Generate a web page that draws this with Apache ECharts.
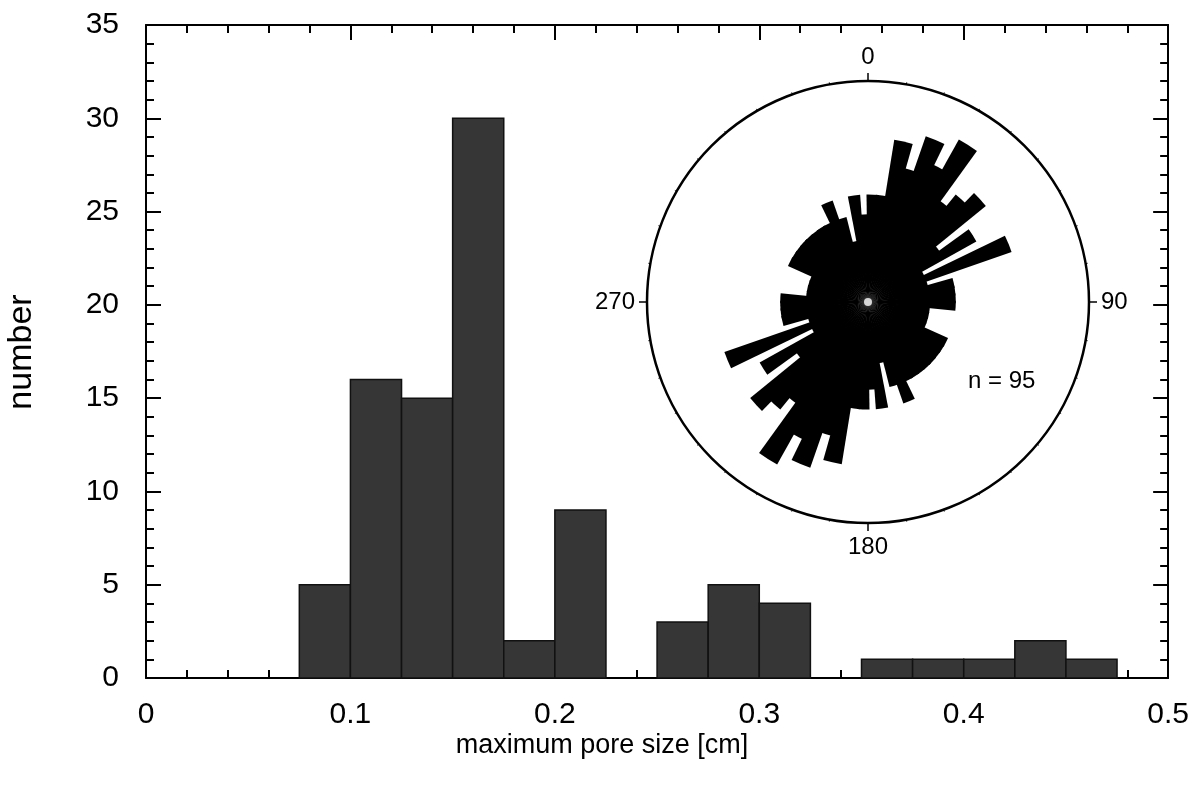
<!DOCTYPE html>
<html>
<head>
<meta charset="utf-8">
<script src="https://cdn.jsdelivr.net/npm/echarts@6/dist/echarts.min.js"></script>
<style>
html,body{margin:0;padding:0;background:#fff;}
#chart{width:1192px;height:793px;}
</style>
</head>
<body>
<div id="chart"></div>
<script>
// ---------- Histogram data (maximum pore size) ----------
const binStarts = [0.075, 0.1, 0.125, 0.15, 0.175, 0.2, 0.225, 0.25, 0.275, 0.3, 0.325, 0.35, 0.375, 0.4, 0.425, 0.45];
const binEnds   = [0.1, 0.125, 0.15, 0.175, 0.2, 0.225, 0.25, 0.275, 0.3, 0.325, 0.35, 0.375, 0.4, 0.425, 0.45, 0.475];
const poreCounts = [5, 16, 15, 30, 2, 9, 0, 3, 5, 4, 0, 1, 1, 1, 2, 1];

const xTickLabels = ['0', '0.1', '0.2', '0.3', '0.4', '0.5'];
const yTickLabels = ['0', '5', '10', '15', '20', '25', '30', '35'];
const xAxisTitle = 'maximum pore size [cm]';
const yAxisTitle = 'number';

// ---------- Rose diagram data (orientation, 5 degree sectors, equal-area) ----------
const roseSectors = ['0','5','10','15','20','25','30','35','40','45','50','55','60','65','70','75','80','85',
  '90','95','100','105','110','115','120','125','130','135','140','145','150','155','160','165','170','175',
  '180','185','190','195','200','205','210','215','220','225','230','235','240','245','250','255','260','265',
  '270','275','280','285','290','295','300','305','310','315','320','325','330','335','340','345','350','355'];
// counts for sectors 0..175 degrees
const roseCountsEast = [3, 3, 7, 5, 8, 6, 9, 4, 5, 6, 2, 4, 1, 6, 1, 2, 2, 2,
                        2, 1, 1, 1, 1, 2, 2, 2, 2, 2, 2, 2, 2, 3, 2, 1, 3, 2];
// counts for sectors 180..355 degrees (axial data, same orientations)
const roseCountsWest = [3, 3, 7, 5, 8, 6, 9, 4, 5, 6, 2, 4, 1, 6, 1, 2, 2, 2,
                        2, 1, 1, 1, 1, 2, 2, 2, 2, 2, 2, 2, 2, 3, 2, 1, 3, 2];
const roseCompassLabels = {0: '0', 90: '90', 180: '180', 270: '270'};
const roseN = 95;

// ---------- Build series data ----------
const histData = binStarts.map((s, i) => [s, binEnds[i], poreCounts[i]]);
const roseCounts = roseCountsEast.concat(roseCountsWest);
// equal-area rose: radius proportional to square root of count
const roseData = roseCounts.map((c, i) => [Math.sqrt(c), i]);

const FONT = "'Liberation Sans', Arial, Helvetica, sans-serif";
const chart = echarts.init(document.getElementById('chart'), null, {renderer: 'canvas'});

const axisLineStyle = {color: '#000', width: 2};
const tickStyle = {color: '#000', width: 2};
const PETAL_HALF_WIDTH = 3.3 * Math.PI / 180;

const option = {
  backgroundColor: '#fff',
  animation: false,
  grid: {left: 146, right: 21, top: 25, bottom: 115, containLabel: false},
  xAxis: [
    {
      type: 'value', position: 'bottom', min: 0, max: 0.5, interval: 0.1,
      axisLine: {show: true, onZero: false, lineStyle: axisLineStyle},
      axisTick: {show: true, inside: true, length: 15, lineStyle: tickStyle},
      minorTick: {show: true, splitNumber: 5, length: 8, lineStyle: tickStyle},
      axisLabel: {fontFamily: FONT, fontSize: 30, color: '#000', margin: 22,
        formatter: v => xTickLabels[Math.round(v * 10)]},
      splitLine: {show: false}
    },
    {
      type: 'value', position: 'top', min: 0, max: 0.5, interval: 0.1,
      axisLine: {show: true, onZero: false, lineStyle: axisLineStyle},
      axisTick: {show: true, inside: true, length: 15, lineStyle: tickStyle},
      minorTick: {show: true, splitNumber: 5, length: 8, lineStyle: tickStyle},
      axisLabel: {show: false},
      splitLine: {show: false}
    }
  ],
  yAxis: [
    {
      type: 'value', position: 'left', min: 0, max: 35, interval: 5,
      axisLine: {show: true, onZero: false, lineStyle: axisLineStyle},
      axisTick: {show: true, inside: true, length: 15, lineStyle: tickStyle},
      minorTick: {show: true, splitNumber: 5, length: 8, lineStyle: tickStyle},
      axisLabel: {fontFamily: FONT, fontSize: 30, color: '#000', margin: 27,
        formatter: v => yTickLabels[Math.round(v / 5)]},
      splitLine: {show: false}
    },
    {
      type: 'value', position: 'right', min: 0, max: 35, interval: 5,
      axisLine: {show: true, onZero: false, lineStyle: axisLineStyle},
      axisTick: {show: true, inside: true, length: 15, lineStyle: tickStyle},
      minorTick: {show: true, splitNumber: 5, length: 8, lineStyle: tickStyle},
      axisLabel: {show: false},
      splitLine: {show: false}
    }
  ],
  polar: [
    {center: [868, 302], radius: 221},
    {center: [868, 302], radius: 221}
  ],
  angleAxis: [
    {
      polarIndex: 0, type: 'category', data: roseSectors, startAngle: 90, clockwise: true,
      boundaryGap: true,
      axisLine: {show: false}, axisTick: {show: false}, axisLabel: {show: false}, splitLine: {show: false}
    },
    {
      polarIndex: 1, type: 'value', min: 0, max: 360, interval: 90, startAngle: 90, clockwise: true,
      axisLine: {show: true, lineStyle: {color: '#000', width: 2.5}},
      axisTick: {show: true, length: 8, lineStyle: {color: '#000', width: 1.5}},
      minorTick: {show: true, splitNumber: 9, length: 2, lineStyle: {color: '#000', width: 1}},
      axisLabel: {show: true, margin: 12, fontFamily: FONT, fontSize: 24, color: '#000',
        formatter: v => (roseCompassLabels[v] !== undefined && v !== 360) ? roseCompassLabels[v] : ''},
      splitLine: {show: false}
    }
  ],
  radiusAxis: [
    {polarIndex: 0, type: 'value', min: 0, max: 3.56, show: false,
     axisLine: {show: false}, axisTick: {show: false}, axisLabel: {show: false}, splitLine: {show: false}},
    {polarIndex: 1, type: 'value', min: 0, max: 1, show: false,
     axisLine: {show: false}, axisTick: {show: false}, axisLabel: {show: false}, splitLine: {show: false}}
  ],
  graphic: [
    {
      type: 'text', x: 968, y: 381, z: 100,
      style: {text: 'n = ' + roseN, fontFamily: FONT, fontSize: 24, fill: '#000',
              textAlign: 'left', textVerticalAlign: 'middle'}
    },
    {
      type: 'text', x: 602, y: 746, z: 100,
      style: {text: xAxisTitle, fontFamily: FONT, fontSize: 27, fill: '#000',
              textAlign: 'center', textVerticalAlign: 'middle'}
    },
    {
      type: 'text', x: 22, y: 352, rotation: Math.PI / 2, z: 100,
      style: {text: yAxisTitle, fontFamily: FONT, fontSize: 34, fill: '#000',
              textAlign: 'center', textVerticalAlign: 'middle'}
    }
  ],
  series: [
    {
      type: 'custom', xAxisIndex: 0, yAxisIndex: 0,
      data: histData,
      encode: {x: [0, 1], y: 2},
      renderItem: function (params, api) {
        const x0 = api.value(0), x1 = api.value(1), y = api.value(2);
        if (!y) return null;
        const p0 = api.coord([x0, y]);
        const p1 = api.coord([x1, 0]);
        return {
          type: 'rect',
          shape: {x: p0[0], y: p0[1], width: p1[0] - p0[0], height: p1[1] - p0[1]},
          style: {fill: '#363636', stroke: '#111', lineWidth: 1.5}
        };
      },
      z: 2
    },
    {
      type: 'custom', coordinateSystem: 'polar', polarIndex: 0,
      data: roseData,
      encode: {radius: 0, angle: 1},
      renderItem: function (params, api) {
        const v = api.value(0), idx = api.value(1);
        const c = api.coord([0, idx]);
        const p = api.coord([v, idx]);
        const r = Math.hypot(p[0] - c[0], p[1] - c[1]);
        const a = Math.atan2(p[1] - c[1], p[0] - c[0]);
        return {
          type: 'sector',
          shape: {cx: c[0], cy: c[1], r0: 0, r: r,
                  startAngle: a - PETAL_HALF_WIDTH, endAngle: a + PETAL_HALF_WIDTH, clockwise: true},
          style: {fill: '#000'}
        };
      },
      silent: true, z: 3
    },
    {
      type: 'scatter', coordinateSystem: 'polar', polarIndex: 0,
      data: [[0, '0']],
      symbol: 'circle', symbolSize: 8,
      itemStyle: {color: '#fff'}, silent: true, z: 5
    }
  ]
};
chart.setOption(option);
</script>
</body>
</html>
